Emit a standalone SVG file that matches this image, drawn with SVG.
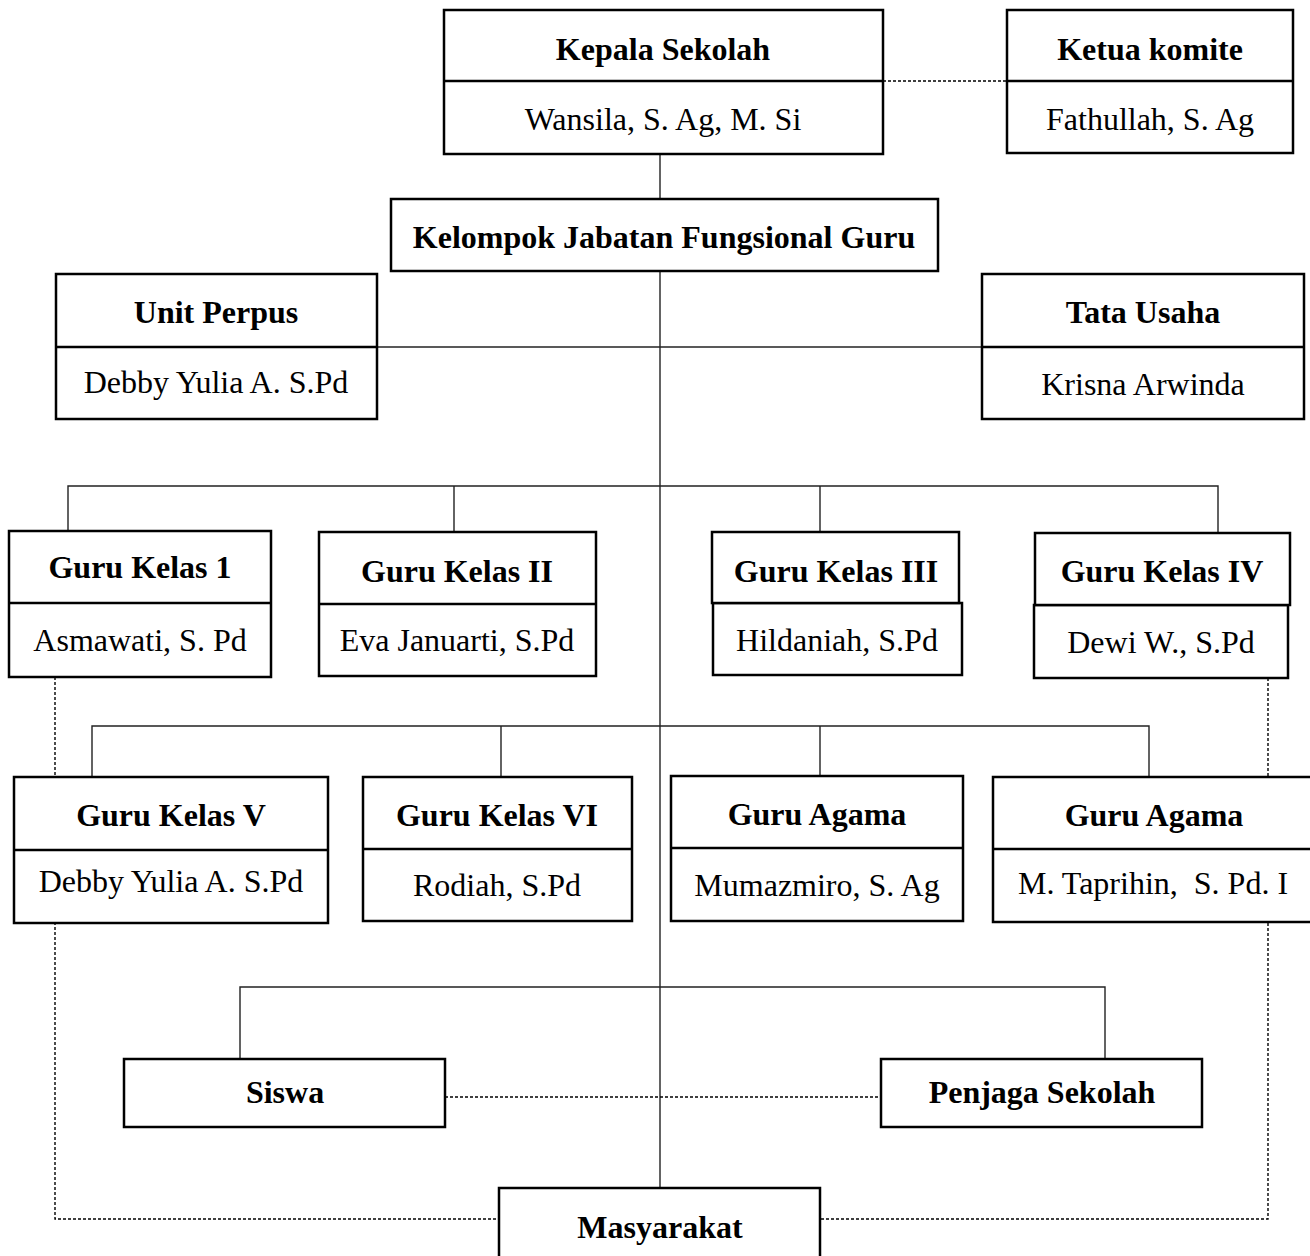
<svg xmlns="http://www.w3.org/2000/svg" width="1310" height="1256" viewBox="0 0 1310 1256">
<style>
.bx{fill:#fff;stroke:#000;stroke-width:2.5}
.dv{fill:none;stroke:#000;stroke-width:2.5}
.ln{fill:none;stroke:#222;stroke-width:1.4}
.dt{fill:none;stroke:#000;stroke-width:1.4;stroke-dasharray:3 2}
.t{font-family:"Liberation Serif","Times New Roman",serif;font-size:32px;font-weight:bold;text-anchor:middle;fill:#000}
.n{font-family:"Liberation Serif","Times New Roman",serif;font-size:32px;text-anchor:middle;fill:#000}
</style>
<rect width="1310" height="1256" fill="#fff"/>
<g id="connectors">
<line class="ln" x1="660" y1="154" x2="660" y2="199"/>
<line class="ln" x1="660" y1="271" x2="660" y2="1188"/>
<line class="ln" x1="377" y1="347" x2="982" y2="347"/>
<polyline class="ln" points="68,531 68,486 1218,486 1218,533"/>
<line class="ln" x1="454" y1="486" x2="454" y2="532"/>
<line class="ln" x1="820" y1="486" x2="820" y2="532"/>
<polyline class="ln" points="92,777 92,726 1149,726 1149,777"/>
<line class="ln" x1="501" y1="726" x2="501" y2="777"/>
<line class="ln" x1="820" y1="726" x2="820" y2="776"/>
<polyline class="ln" points="240,1059 240,987 1105,987 1105,1059"/>
<line class="dt" x1="883" y1="81" x2="1007" y2="81"/>
<polyline class="dt" points="55,677 55,1219 499,1219"/>
<polyline class="dt" points="1268,678 1268,1219 820,1219"/>
<line class="dt" x1="445" y1="1097" x2="881" y2="1097"/>
</g>
<g id="kepala">
<rect class="bx" x="444" y="10" width="439" height="144"/>
<line class="dv" x1="444" y1="81" x2="883" y2="81"/>
<text class="t" x="663" y="60">Kepala Sekolah</text>
<text class="n" x="663" y="130">Wansila, S. Ag, M. Si</text>
</g>
<g id="ketua">
<rect class="bx" x="1007" y="10" width="286" height="143"/>
<line class="dv" x1="1007" y1="81" x2="1293" y2="81"/>
<text class="t" x="1150" y="60">Ketua komite</text>
<text class="n" x="1150" y="130">Fathullah, S. Ag</text>
</g>
<g id="kelompok">
<rect class="bx" x="391" y="199" width="547" height="72"/>
<text class="t" x="664" y="248">Kelompok Jabatan Fungsional Guru</text>
</g>
<g id="perpus">
<rect class="bx" x="56" y="274" width="321" height="145"/>
<line class="dv" x1="56" y1="347" x2="377" y2="347"/>
<text class="t" x="216" y="323">Unit Perpus</text>
<text class="n" x="216" y="393">Debby Yulia A. S.Pd</text>
</g>
<g id="tatausaha">
<rect class="bx" x="982" y="274" width="322" height="145"/>
<line class="dv" x1="982" y1="347" x2="1304" y2="347"/>
<text class="t" x="1143" y="323">Tata Usaha</text>
<text class="n" x="1143" y="395">Krisna Arwinda</text>
</g>
<g id="guru1">
<rect class="bx" x="9" y="531" width="262" height="146"/>
<line class="dv" x1="9" y1="603" x2="271" y2="603"/>
<text class="t" x="140" y="578">Guru Kelas 1</text>
<text class="n" x="140" y="651">Asmawati, S. Pd</text>
</g>
<g id="guru2">
<rect class="bx" x="319" y="532" width="277" height="144"/>
<line class="dv" x1="319" y1="604" x2="596" y2="604"/>
<text class="t" x="457" y="582">Guru Kelas II</text>
<text class="n" x="457" y="651">Eva Januarti, S.Pd</text>
</g>
<g id="guru3">
<rect class="bx" x="713" y="603" width="249" height="72"/>
<rect class="bx" x="712" y="532" width="247" height="71"/>
<text class="t" x="836" y="582">Guru Kelas III</text>
<text class="n" x="837" y="651">Hildaniah, S.Pd</text>
</g>
<g id="guru4">
<rect class="bx" x="1034" y="605" width="254" height="73"/>
<rect class="bx" x="1035" y="533" width="255" height="72"/>
<text class="t" x="1162" y="582">Guru Kelas IV</text>
<text class="n" x="1161" y="653">Dewi W., S.Pd</text>
</g>
<g id="guru5">
<rect class="bx" x="14" y="777" width="314" height="146"/>
<line class="dv" x1="14" y1="850" x2="328" y2="850"/>
<text class="t" x="171" y="826">Guru Kelas V</text>
<text class="n" x="171" y="892">Debby Yulia A. S.Pd</text>
</g>
<g id="guru6">
<rect class="bx" x="363" y="777" width="269" height="144"/>
<line class="dv" x1="363" y1="849" x2="632" y2="849"/>
<text class="t" x="497" y="826">Guru Kelas VI</text>
<text class="n" x="497" y="896">Rodiah, S.Pd</text>
</g>
<g id="agama1">
<rect class="bx" x="671" y="776" width="292" height="145"/>
<line class="dv" x1="671" y1="848" x2="963" y2="848"/>
<text class="t" x="817" y="825">Guru Agama</text>
<text class="n" x="817" y="896">Mumazmiro, S. Ag</text>
</g>
<g id="agama2">
<rect class="bx" x="993" y="777" width="321" height="145"/>
<line class="dv" x1="993" y1="849" x2="1314" y2="849"/>
<text class="t" x="1154" y="826">Guru Agama</text>
<text class="n" x="1153" y="894" xml:space="preserve">M. Taprihin,  S. Pd. I</text>
</g>
<g id="siswa">
<rect class="bx" x="124" y="1059" width="321" height="68"/>
<text class="t" x="285" y="1103">Siswa</text>
</g>
<g id="penjaga">
<rect class="bx" x="881" y="1059" width="321" height="68"/>
<text class="t" x="1042" y="1103">Penjaga Sekolah</text>
</g>
<g id="masyarakat">
<rect class="bx" x="499" y="1188" width="321" height="80"/>
<text class="t" x="660" y="1238">Masyarakat</text>
</g>
</svg>
